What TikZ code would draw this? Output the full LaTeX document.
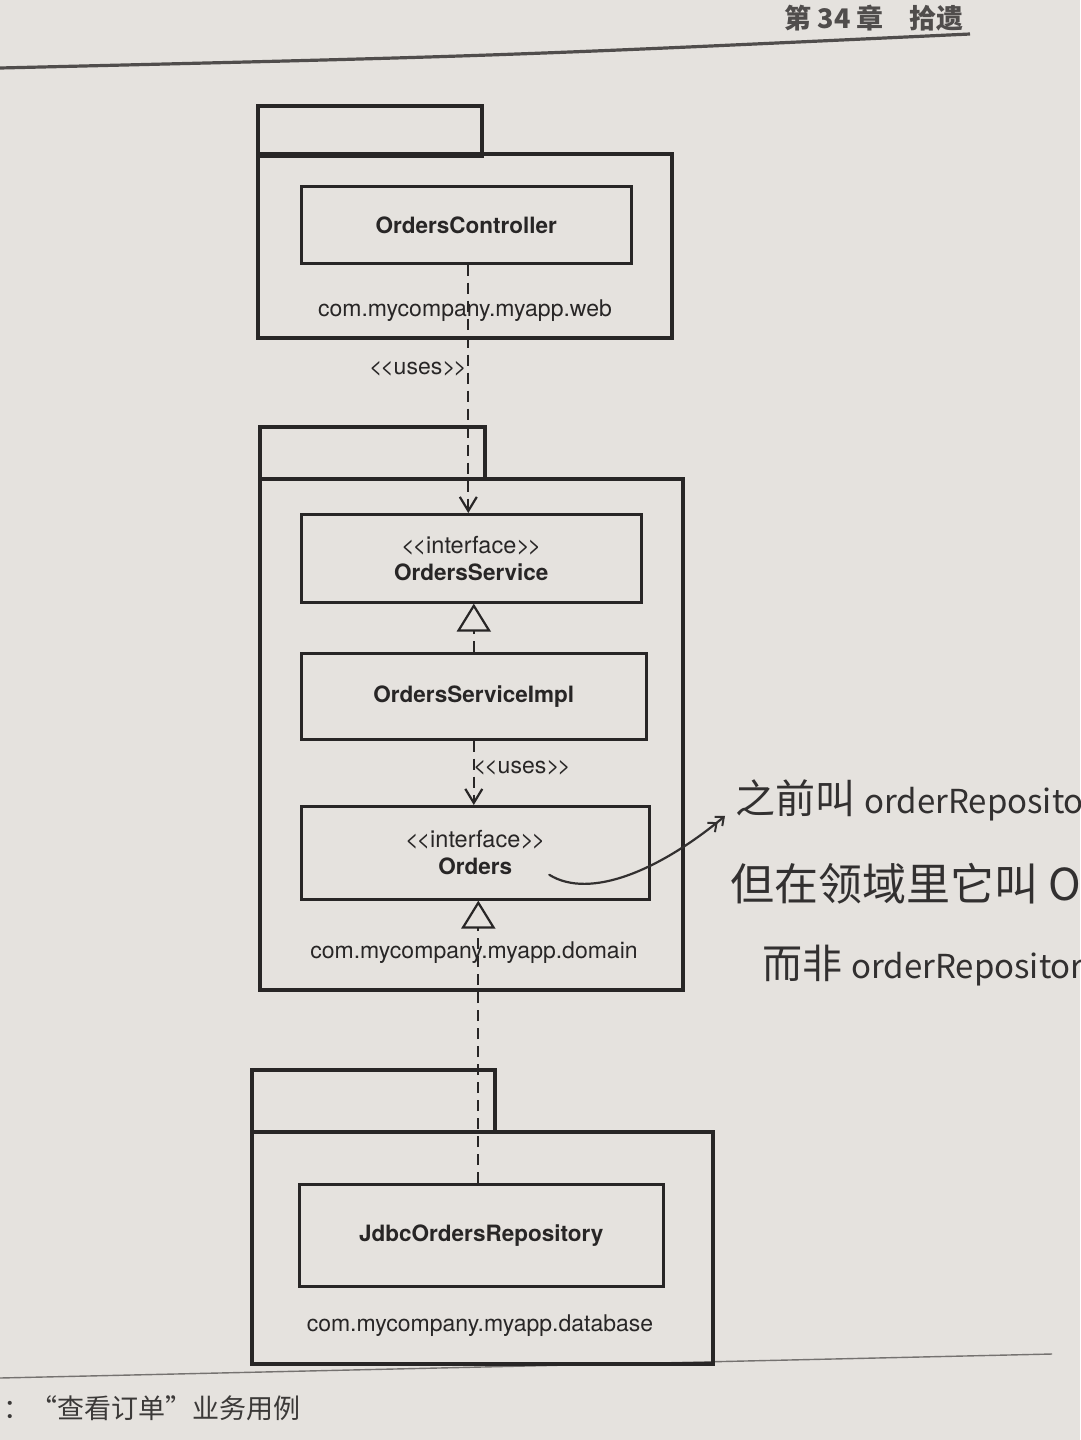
\documentclass[tikz,border=0pt]{standalone}
\usepackage{fontspec}
\setmainfont{TeX Gyre Heros}[Ligatures=TeXOff]
\newfontfamily\cjk{Noto Sans CJK SC}
\usetikzlibrary{arrows.meta,calc}
\definecolor{paper}{RGB}{229,226,222}
\definecolor{ink}{RGB}{40,38,38}
\definecolor{hdr}{RGB}{80,77,76}
\definecolor{pen}{RGB}{50,48,48}
\newcommand{\stl}{<\kern-0.1em<}
\newcommand{\str}{>\kern-0.1em>}
\begin{document}
\begin{tikzpicture}[x=1pt,y=-1pt,
  pkg/.style={draw=ink, line width=4.2pt, anchor=north west, inner sep=0pt},
  cls/.style={draw=ink, line width=2.6pt, anchor=north west, inner sep=0pt, align=center,
    font=\fontsize{22.5}{27}\selectfont\bfseries, text=ink},
  lbl/.style={font=\fontsize{23}{26}\selectfont, text=ink, inner sep=0pt},
  dep/.style={draw=ink, line width=2pt, dash pattern=on 11pt off 7pt},
  usesarr/.style={dep, -{Straight Barb[length=14pt,width=17pt,line width=2.2pt]}},
  realarr/.style={dep, -{Triangle[open,length=28pt,width=34pt,line width=2.2pt]}},
  hand/.style={draw=pen, line width=2.2pt, line cap=round},
  handtext/.style={text=pen, inner sep=0pt, anchor=base west}]
\useasboundingbox (0,0) rectangle (1080,1440);
\clip (0,0) rectangle (1080,1440);
\fill[paper] (0,0) rectangle (1080,1440);

% page header and footer
\node[text=hdr, inner sep=0pt, font=\cjk\fontsize{27}{30}\selectfont\bfseries] (header) at (874,18) {第 34 章\hspace{26pt}拾遗};
\draw[hdr, line width=3.2pt] (0,68) .. controls (500,56) .. (970,34);
\draw[hdr!75!paper, line width=1.4pt] (0,1378) -- (1052,1354);
\node[text=ink!90!paper, inner sep=0pt, anchor=west, font=\cjk\fontsize{27}{30}\selectfont] (footer) at (3,1408) {：“查看订单”业务用例};

% package com.mycompany.myapp.web
\node[pkg, minimum width=224pt, minimum height=50pt] (webtab) at (256,104) {};
\node[pkg, minimum width=414pt, minimum height=184pt] (web) at (256,152) {};
\node[lbl] (weblbl) at (465,311) {com.mycompany.myapp.web};
\node[cls, minimum width=330pt, minimum height=77pt] (ctrl) at (300,185) {OrdersController};

% package com.mycompany.myapp.domain
\node[pkg, minimum width=225pt, minimum height=52pt] (domtab) at (258,425) {};
\node[pkg, minimum width=423pt, minimum height=511pt] (dom) at (258,477) {};
\node[lbl] (domlbl) at (474,953) {com.mycompany.myapp.domain};
\node[cls, minimum width=340pt, minimum height=88pt] (svc) at (300,513) {{\mdseries\fontsize{23.5}{27}\selectfont \stl interface\str}\\OrdersService};
\node[cls, minimum width=345pt, minimum height=86pt] (impl) at (300,652) {OrdersServiceImpl};
\node[cls, minimum width=348pt, minimum height=93pt] (orders) at (300,805) {{\mdseries\fontsize{23.5}{27}\selectfont \stl interface\str}\\Orders};

% package com.mycompany.myapp.database
\node[pkg, minimum width=243pt, minimum height=62pt] (dbtab) at (250,1068) {};
\node[pkg, minimum width=461pt, minimum height=232pt] (db) at (250,1130) {};
\node[lbl] (dblbl) at (480,1326) {com.mycompany.myapp.database};
\node[cls, minimum width=364pt, minimum height=102pt] (jdbc) at (298,1183) {JdbcOrdersRepository};

% dependencies
\draw[usesarr] ([xshift=2pt]ctrl.south) -- ([xshift=-3pt]svc.north);
\node[lbl] (uses1) at (418,369) {\stl uses\str};
\draw[realarr] (impl.north) -- (impl.north |- svc.south);
\draw[usesarr] (impl.south) -- (impl.south |- orders.north);
\node[lbl] (uses2) at (522,768) {\stl uses\str};
\draw[realarr] ([xshift=-3pt]jdbc.north) -- ([xshift=3pt]orders.south);

% handwritten note
\node[handtext, font=\cjk\fontsize{40}{40}\selectfont] (hw1) at (735,813)
  {之前叫 {\fontsize{33}{33}\selectfont orderRepository}};
\node[handtext, font=\cjk\fontsize{44}{44}\selectfont] (hw2) at (730,900)
  {但在领域里它叫 Orders};
\node[handtext, font=\cjk\fontsize{40}{40}\selectfont] (hw3) at (762,978)
  {而非 {\fontsize{33}{33}\selectfont orderRepository}};
\coordinate (oc) at ($(orders.center)+(74,22)$);
\draw[hand, -{Straight Barb[length=7pt,width=12pt,line width=2pt]Straight Barb[length=7pt,width=12pt,line width=2pt]}]
  (oc) .. controls (590,900) and (660,870) .. ([xshift=-10pt,yshift=-16pt]hw1.west);
\end{tikzpicture}
\end{document}
